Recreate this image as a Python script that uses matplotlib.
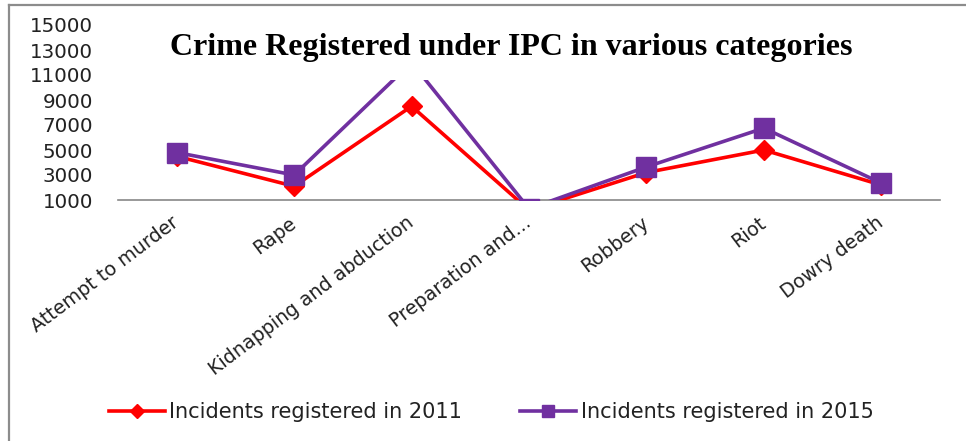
import matplotlib
matplotlib.use("Agg")
import matplotlib.pyplot as plt
from matplotlib.patches import Rectangle
from matplotlib.lines import Line2D

categories = ["Attempt to murder", "Rape", "Kidnapping and abduction",
              "Preparation and...", "Robbery", "Riot", "Dowry death"]
incidents_2011 = [4500, 2100, 8500, 200, 3200, 5000, 2200]
incidents_2015 = [4800, 3000, 12000, 300, 3650, 6750, 2350]
yticks = [1000, 3000, 5000, 7000, 9000, 11000, 13000, 15000]
title = "Crime Registered under IPC in various categories"
labels = ["Incidents registered in 2011", "Incidents registered in 2015"]

W, H = 966, 441
fig = plt.figure(figsize=(W / 100, H / 100), dpi=100)
fig.patch.set_facecolor("white")
font = "DejaVu Sans"
fs = 15

ax = fig.add_axes([118 / W, 1 - 200 / H, (940 - 118) / W, (200 - 25) / H])
x = list(range(len(categories)))
red, purple = "#FF0000", "#7030A0"
ax.plot(x, incidents_2011, color=red, lw=2.6, marker="D", ms=10, zorder=3,
        label=labels[0], solid_joinstyle="miter")
ax.plot(x, incidents_2015, color=purple, lw=2.6, marker="s", ms=15, zorder=4,
        label=labels[1], solid_joinstyle="miter")
ax.set_xlim(-0.5, len(categories) - 0.5)
ax.set_ylim(1000, 15000)
ax.set_yticks(yticks)
ax.set_yticklabels([str(v) for v in yticks], fontsize=14.3, family=font, color="#222222")
ax.set_xticks(x)
ax.set_xticklabels(categories, rotation=37, ha="right", va="center",
                   rotation_mode="anchor", fontsize=13.8, family=font, color="#222222")
ax.tick_params(axis="y", length=0, pad=18)
ax.tick_params(axis="x", length=0, pad=15)
for s in ["top", "right", "left"]:
    ax.spines[s].set_visible(False)
ax.spines["bottom"].set_color("#888888")
ax.spines["bottom"].set_linewidth(1.2)

# title area overlays the plot (white box)
fig.patches.append(Rectangle((118 / W, 1 - 80 / H), (940 - 118) / W, 55 / H,
                             transform=fig.transFigure, facecolor="white",
                             edgecolor="none", zorder=5))
fig.text(511 / W, 1 - 47 / H, title, ha="center", va="center",
         fontsize=23, fontweight="bold", family="Liberation Serif", zorder=6)

# outer border (left and top)
fig.lines.append(Line2D([9 / W, 9 / W], [0, 1 - 5 / H], transform=fig.transFigure,
                        color="#8c8c8c", lw=1.6))
fig.lines.append(Line2D([9 / W, 1], [1 - 5 / H, 1 - 5 / H], transform=fig.transFigure,
                        color="#8c8c8c", lw=1.6))

handles = [Line2D([], [], color=red, lw=2.6, marker="D", ms=7),
           Line2D([], [], color=purple, lw=2.6, marker="s", ms=9)]
leg = fig.legend(handles, labels, loc="center", bbox_to_anchor=(491 / W, 1 - 412 / H),
                 ncol=2, frameon=False, handlelength=2.7, handletextpad=0.2,
                 columnspacing=2.8, prop={"family": font, "size": fs})
for t in leg.get_texts():
    t.set_color("#222222")

fig.savefig("out.png", dpi=100, facecolor="white")
